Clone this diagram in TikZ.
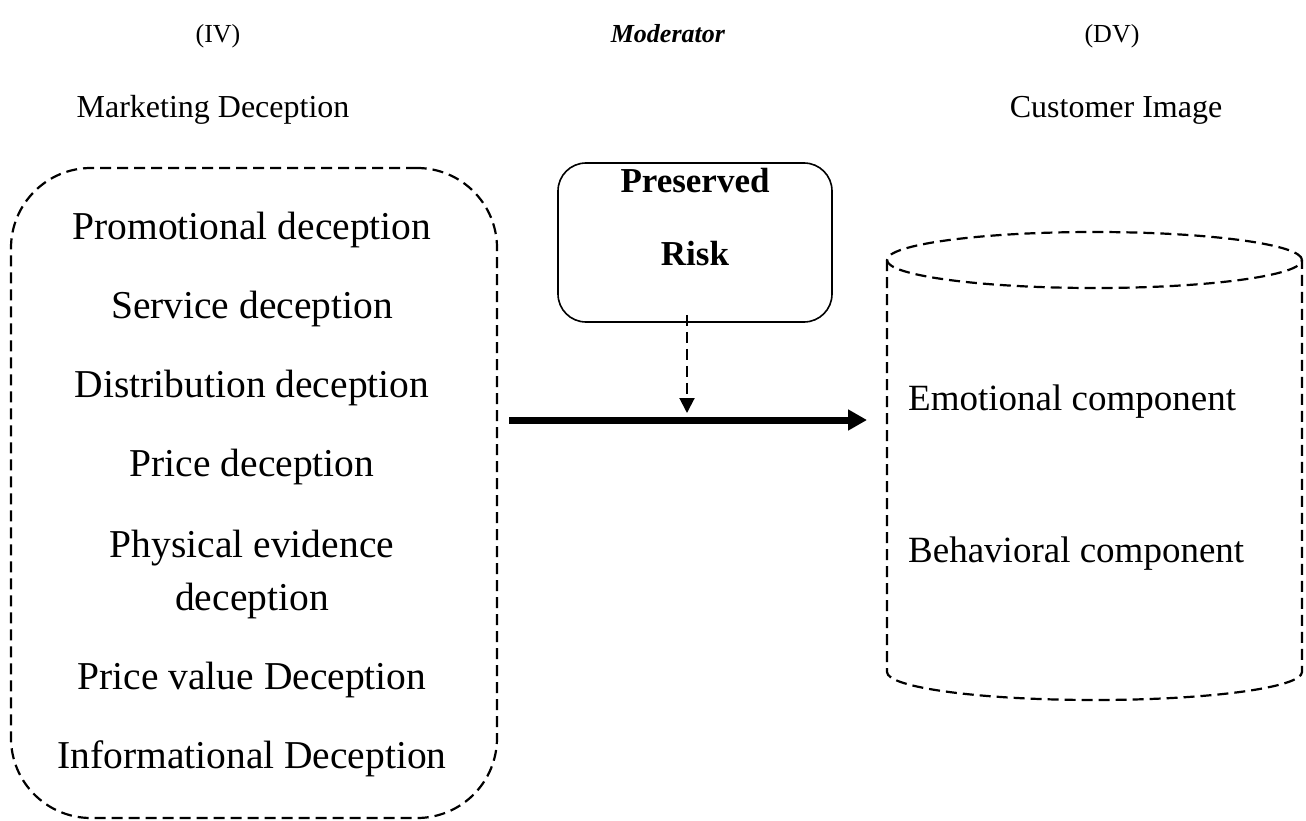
\documentclass[tikz,border=0pt]{standalone}
\usepackage{fontspec}
\setmainfont{Liberation Serif}
\usetikzlibrary{arrows.meta}

\begin{document}
\begin{tikzpicture}[x=1pt,y=-1pt,
  toplabel/.style={inner sep=0pt,anchor=base,font=\fontsize{26}{30}\selectfont},
  varlabel/.style={inner sep=0pt,anchor=base,font=\fontsize{32}{38}\selectfont},
  item/.style={inner sep=0pt,anchor=base,font=\fontsize{39.5}{46}\selectfont},
  compitem/.style={inner sep=0pt,anchor=base west,font=\fontsize{37}{44}\selectfont},
  modtext/.style={inner sep=0pt,anchor=base,font=\fontsize{35}{40}\selectfont\bfseries},
  dashline/.style={line width=2.2pt,dash pattern=on 11pt off 6pt},
  modbox/.style={draw,line width=1.6pt,rounded corners=28pt,minimum width=274pt,minimum height=159pt,inner sep=0pt},
  ivbox/.style={draw,dashline,rounded corners=80pt,minimum width=486pt,minimum height=650pt,inner sep=0pt},
  mainarrow/.style={line width=7pt,-{Triangle[length=19pt,width=20pt]}},
  modarrow/.style={line width=2pt,dash pattern=on 11pt off 6pt,-{Triangle[length=15pt,width=15pt]}}
]
\useasboundingbox (0,0) rectangle (1306,821);

% column headings
\node[toplabel] (iv)  at (218,43) {(IV)};
\node[toplabel] (mod) at (668,43) {\textbf{\textit{Moderator}}};
\node[toplabel] (dv)  at (1112,43) {(DV)};
\node[varlabel] (mktg) at (213,118) {Marketing Deception};
\node[varlabel] (cust) at (1116,118) {Customer Image};

% independent variable: dimensions of marketing deception
\node[ivbox] (ivgroup) at (254,493) {};
\node[item] (d1) at (252,239) {Promotional deception};
\node[item] (d2) at (252,318) {Service deception};
\node[item] (d3) at (252,397) {Distribution deception};
\node[item] (d4) at (252,476) {Price deception};
\node[item] (d5) at (252,557) {Physical evidence};
\node[item] (d5b) at (252,610) {deception};
\node[item] (d6) at (252,689) {Price value Deception};
\node[item] (d7) at (252,768) {Informational Deception};

% moderator
\node[modbox] (risk) at (695,242.5) {};
\node[modtext] (riskA) at (695,193) {Preserved};
\node[modtext] (riskB) at (695,265) {Risk};

% dependent variable: customer image cylinder
\coordinate (cylL) at (887,260);
\coordinate (cylR) at (1302,260);
\coordinate (cylLB) at (887,672);
\coordinate (cylRB) at (1302,672);
\draw[dashline] (1094.5,260) ellipse [x radius=207.5pt, y radius=28pt];
\draw[dashline] (cylL) -- (cylLB)
  .. controls (887,687.5) and (979.9,700) .. (1094.5,700)
  .. controls (1209.1,700) and (1302,687.5) .. (cylRB) -- (cylR);
\node[compitem] (c1) at (908,410) {Emotional component};
\node[compitem] (c2) at (908,562) {Behavioral component};

% relations
\coordinate (relStart) at (509,420);
\coordinate (relEnd) at (867,420);
\coordinate (modEnd) at (687,413);
\draw[mainarrow] (relStart) -- (relEnd);
\draw[modarrow] (risk.south -| modEnd) ++(0,-8) -- (modEnd);
\end{tikzpicture}
\end{document}
